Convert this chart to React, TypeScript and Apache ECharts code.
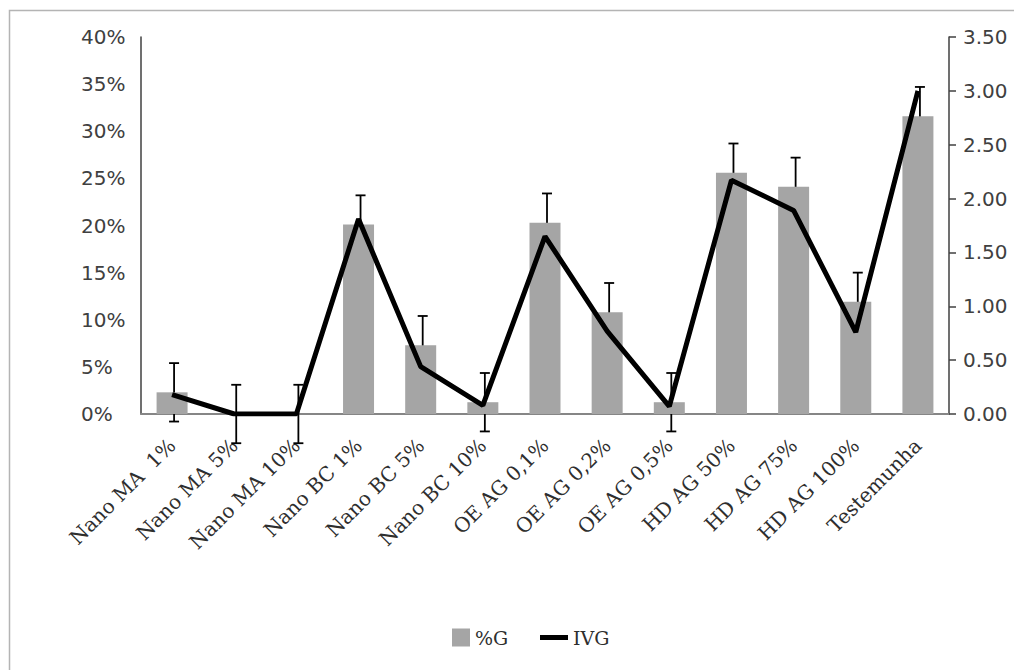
import React, { useEffect, useRef } from "react";
import * as echarts from "echarts";

const categories = [
  "Nano MA  1%",
  "Nano MA 5%",
  "Nano MA 10%",
  "Nano BC 1%",
  "Nano BC 5%",
  "Nano BC 10%",
  "OE AG 0,1%",
  "OE AG 0,2%",
  "OE AG 0,5%",
  "HD AG 50%",
  "HD AG 75%",
  "HD AG 100%",
  "Testemunha",
];
const germination = [2.3, 0, 0, 20.1, 7.3, 1.25, 20.3, 10.8, 1.25, 25.6, 24.1, 11.9, 31.6];
const germinationErr = [3.1, 3.1, 3.1, 3.1, 3.1, 3.1, 3.1, 3.1, 3.1, 3.1, 3.1, 3.1, 3.1];
const ivg = [0.18, 0, 0, 1.81, 0.44, 0.08, 1.65, 0.77, 0.07, 2.17, 1.89, 0.76, 3.0];
const leftTicks = { min: 0, max: 40, interval: 5 };
const rightTicks = { min: 0, max: 3.5, interval: 0.5 };

const TEXT = "#404040";
const XTEXT = "#2e2e2e";
const SERIF = "'DejaVu Serif', serif";
const SANS = "'DejaVu Sans', sans-serif";

export default function App() {
  const ref = useRef<HTMLDivElement>(null);
  useEffect(() => {
    document.body.style.margin = "0";
    const chart = echarts.init(ref.current!, null, { renderer: "svg" });
    const errData = germination.map((v, i) => [i, v - germinationErr[i], v + germinationErr[i]]);
    chart.setOption({
      animation: false,
      backgroundColor: "#ffffff",
      graphic: [
        {
          type: "rect",
          shape: { x: 9.5, y: 10.5, width: 1100, height: 800 },
          style: { fill: "none", stroke: "#b4b4b4", lineWidth: 1.5 },
          silent: true,
          z: -10,
        },
      ],
      grid: { left: 141, right: 65, top: 37, bottom: 256, containLabel: false },
      legend: [
        {
          data: [{ name: "%G", icon: "rect" }],
          left: 452,
          top: 628,
          padding: 0,
          itemWidth: 18,
          itemHeight: 18,
          itemGap: 8,
          textStyle: { fontFamily: SERIF, fontSize: 19, color: XTEXT },
        },
        {
          data: [{ name: "IVG", icon: "rect" }],
          left: 540,
          top: 628,
          padding: 0,
          itemWidth: 28,
          itemHeight: 5,
          textStyle: { fontFamily: SERIF, fontSize: 19, color: XTEXT },
        },
      ],
      xAxis: {
        type: "category",
        data: categories,
        axisLine: { lineStyle: { color: "#868686", width: 2 } },
        axisTick: { show: false },
        axisLabel: {
          rotate: 45,
          interval: 0,
          margin: 28,
          fontFamily: SERIF,
          fontSize: 20,
          color: XTEXT,
        },
      },
      yAxis: [
        {
          type: "value",
          ...leftTicks,
          axisLine: { show: true, lineStyle: { color: "#404040", width: 1.5 } },
          axisTick: { show: false },
          splitLine: { show: false },
          axisLabel: {
            formatter: "{value}%",
            align: "left",
            margin: 60,
            fontFamily: SANS,
            fontSize: 20,
            color: TEXT,
          },
        },
        {
          type: "value",
          ...rightTicks,
          position: "right",
          axisLine: { show: true, lineStyle: { color: "#404040", width: 1.5 } },
          axisTick: { show: true, length: 7, lineStyle: { color: "#404040", width: 1.5 } },
          splitLine: { show: false },
          axisLabel: {
            formatter: (v: number) => v.toFixed(2),
            margin: 14,
            fontFamily: SANS,
            fontSize: 20,
            color: TEXT,
          },
        },
      ],
      series: [
        {
          name: "%G",
          type: "bar",
          data: germination,
          barWidth: 31,
          itemStyle: { color: "#a5a5a5" },
          yAxisIndex: 0,
        },
        {
          name: "errG",
          type: "custom",
          yAxisIndex: 0,
          clip: false,
          data: errData,
          renderItem: (params: any, api: any) => {
            const x = api.value(0);
            const lo = api.coord([x, api.value(1)]);
            const hi = api.coord([x, api.value(2)]);
            const cx = lo[0] + 2;
            const half = 5;
            const st = { stroke: "#000", lineWidth: 1.8 };
            return {
              type: "group",
              children: [
                { type: "line", shape: { x1: cx, y1: lo[1], x2: cx, y2: hi[1] }, style: st },
                { type: "line", shape: { x1: cx - half, y1: lo[1], x2: cx + half, y2: lo[1] }, style: st },
                { type: "line", shape: { x1: cx - half, y1: hi[1], x2: cx + half, y2: hi[1] }, style: st },
              ],
            };
          },
        },
        {
          name: "IVG",
          type: "line",
          data: ivg,
          yAxisIndex: 1,
          symbol: "none",
          lineStyle: { color: "#000", width: 5 },
          itemStyle: { color: "#000" },
        },
      ],
    });
    return () => chart.dispose();
  }, []);
  return <div ref={ref} style={{ width: 1014, height: 670 }} />;
}
